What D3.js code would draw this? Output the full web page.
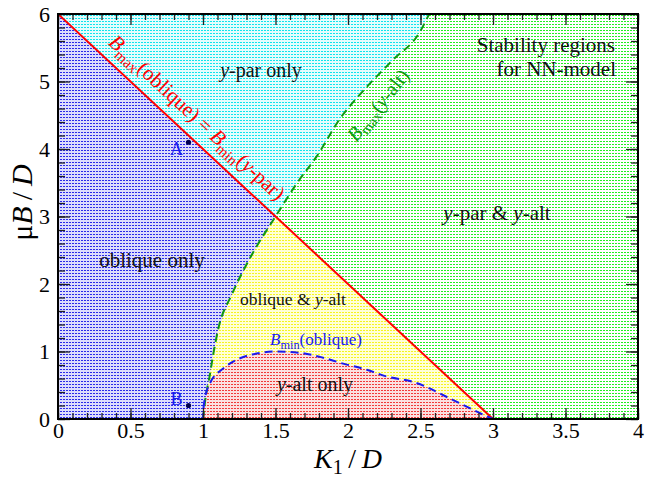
<!DOCTYPE html>
<html lang="en">
<head>
<meta charset="UTF-8">
<title>Stability regions for NN-model</title>
<script src="https://d3js.org/d3.v7.min.js"></script>
<style>
  body { margin: 0; background: #fff; }
  svg text { font-family: "Liberation Serif", "Times New Roman", serif; }
</style>
</head>
<body>
<div id="chart"></div>
<script>
// axis ticks
const xTicks = [0, 0.5, 1, 1.5, 2, 2.5, 3, 3.5, 4];
const yTicks = [0, 1, 2, 3, 4, 5, 6];

// Bmax(oblique) = Bmin(y-par): straight line
const redX = [0, 3];
const redY = [6, 0];

// Bmax(y-alt), green dashed curve
const greenX = [1, 1.02, 1.043, 1.07, 1.106, 1.2, 1.336, 1.5, 1.65, 1.784, 1.945, 2.1, 2.3, 2.497, 2.56];
const greenY = [0, 0.35, 0.6, 0.95, 1.34, 1.85, 2.43, 3.0, 3.5, 3.89, 4.45, 4.85, 5.3, 5.74, 6.0];

// Bmin(oblique), blue dashed curve
const blueX = [0, 1, 1.005, 1.048, 1.14, 1.255, 1.37, 1.508, 1.669, 1.807, 1.967, 2.13, 2.266, 2.45, 2.726, 2.968, 3];
const blueY = [0, 0, 0.2, 0.53, 0.75, 0.90, 0.97, 1.0, 0.98, 0.92, 0.82, 0.73, 0.63, 0.55, 0.28, 0.03, 0];

// marked points
const pointNames = ["A", "B"];
const pointX = [0.9, 0.9];
const pointY = [4.1, 0.2];

const width = 650, height = 479;
const margin = {top: 14, right: 12, bottom: 60, left: 58};

const svg = d3.select("#chart").append("svg")
    .attr("width", width).attr("height", height);

const x = d3.scaleLinear().domain([0, 4]).range([margin.left, width - margin.right]);
const y = d3.scaleLinear().domain([0, 6]).range([height - margin.bottom, margin.top]);

const defs = svg.append("defs");

// dotted fills: tinted background with small saturated dots
function addPattern(id, bg, dot) {
    const p = defs.append("pattern").attr("id", id)
        .attr("patternUnits", "userSpaceOnUse").attr("width", 3).attr("height", 3);
    p.append("rect").attr("width", 3).attr("height", 3).attr("fill", bg);
    p.append("rect").attr("width", 2).attr("height", 1).attr("fill", dot);
}
addPattern("pGreen", "#ffffff", "#22ee22");
addPattern("pCyan", "#e4fdfd", "#10e4ec");
addPattern("pBlue", "#dcdcfc", "#2a2ae8");
addPattern("pYellow", "#ffffd8", "#f4f420");
addPattern("pRed", "#fbe0e0", "#f03a3a");

defs.append("clipPath").attr("id", "plotClip")
    .append("rect").attr("x", x(0)).attr("y", y(6))
    .attr("width", x(4) - x(0)).attr("height", y(0) - y(6));

const greenPts = greenX.map((d, i) => [d, greenY[i]]);
const bluePts = blueX.map((d, i) => [d, blueY[i]]);

const curve = d3.line().x(d => x(d[0])).y(d => y(d[1])).curve(d3.curveMonotoneX);

// region left of the green curve
const leftOfGreen = [[0, 0]].concat(greenPts, [[0, 6]]);
const polyPath = pts => "M" + pts.map(d => x(d[0]) + "," + y(d[1])).join("L") + "Z";

defs.append("clipPath").attr("id", "leftGreenClip")
    .append("path").attr("d", polyPath(leftOfGreen));

const plot = svg.append("g").attr("clip-path", "url(#plotClip)");

// y-par & y-alt everywhere first
plot.append("rect").attr("x", x(0)).attr("y", y(6))
    .attr("width", x(4) - x(0)).attr("height", y(0) - y(6))
    .attr("fill", "url(#pGreen)");

// y-par only
plot.append("path").attr("d", polyPath(leftOfGreen)).attr("fill", "url(#pCyan)");

// below red line: oblique & y-alt
const underRed = [[0, 0], [redX[0], redY[0]], [redX[1], redY[1]]];
plot.append("path").attr("d", polyPath(underRed)).attr("fill", "url(#pYellow)");

// y-alt only (under blue curve)
const area = d3.area().x(d => x(d[0])).y0(y(0)).y1(d => y(d[1])).curve(d3.curveMonotoneX);
plot.append("path").attr("d", area(bluePts)).attr("fill", "url(#pRed)");

// oblique only
plot.append("path").attr("d", polyPath(underRed))
    .attr("clip-path", "url(#leftGreenClip)").attr("fill", "url(#pBlue)");

// boundary lines
plot.append("line")
    .attr("x1", x(redX[0])).attr("y1", y(redY[0]))
    .attr("x2", x(redX[1])).attr("y2", y(redY[1]))
    .attr("stroke", "#ff0000").attr("stroke-width", 2);

plot.append("path").attr("d", curve(greenPts))
    .attr("fill", "none").attr("stroke", "#119911").attr("stroke-width", 2)
    .attr("stroke-dasharray", "8,5");

plot.append("path").attr("d", curve(bluePts))
    .attr("fill", "none").attr("stroke", "#1a1aee").attr("stroke-width", 2)
    .attr("stroke-dasharray", "8,5");

// points A, B
plot.selectAll(".pt").data(pointNames).enter().append("circle")
    .attr("cx", (d, i) => x(pointX[i])).attr("cy", (d, i) => y(pointY[i]))
    .attr("r", 2.6).attr("fill", "#000050");
svg.selectAll(".ptlabel").data(pointNames).enter().append("text")
    .attr("x", (d, i) => x(pointX[i]) - 12).attr("y", (d, i) => y(pointY[i]) + (i ? -1 : 13))
    .attr("text-anchor", "middle").attr("font-size", 18).attr("fill", "#1a1aee")
    .text(d => d);

// axes
function styleAxis(g) {
    g.select(".domain").remove();
    g.selectAll(".tick line").attr("stroke", "#222").attr("stroke-width", 1.3);
    g.selectAll(".tick text").attr("font-size", 22).attr("fill", "#000")
        .style("font-family", "'Liberation Serif', serif");
}
const xMinor = d3.range(0, 4.001, 0.1);
const yMinor = d3.range(0, 6.001, 0.2);

svg.append("g").attr("transform", `translate(0,${y(0)})`)
    .call(d3.axisBottom(x).tickValues(xMinor).tickSize(-6).tickFormat("")).call(styleAxis);
svg.append("g").attr("transform", `translate(0,${y(0)})`)
    .call(d3.axisBottom(x).tickValues(xTicks).tickSize(-11).tickPadding(3).tickFormat(d3.format("~g"))).call(styleAxis);
svg.append("g").attr("transform", `translate(0,${y(6)})`)
    .call(d3.axisTop(x).tickValues(xMinor).tickSize(-6).tickFormat("")).call(styleAxis);
svg.append("g").attr("transform", `translate(0,${y(6)})`)
    .call(d3.axisTop(x).tickValues(xTicks).tickSize(-11).tickFormat("")).call(styleAxis);

svg.append("g").attr("transform", `translate(${x(0)},0)`)
    .call(d3.axisLeft(y).tickValues(yMinor).tickSize(-7).tickFormat("")).call(styleAxis);
svg.append("g").attr("transform", `translate(${x(0)},0)`)
    .call(d3.axisLeft(y).tickValues(yTicks).tickSize(-12).tickPadding(8).tickFormat(d3.format("d"))).call(styleAxis);
svg.append("g").attr("transform", `translate(${x(4)},0)`)
    .call(d3.axisRight(y).tickValues(yMinor).tickSize(-7).tickFormat("")).call(styleAxis);
svg.append("g").attr("transform", `translate(${x(4)},0)`)
    .call(d3.axisRight(y).tickValues(yTicks).tickSize(-12).tickFormat("")).call(styleAxis);

// frame
svg.append("rect").attr("x", x(0)).attr("y", y(6))
    .attr("width", x(4) - x(0)).attr("height", y(0) - y(6))
    .attr("fill", "none").attr("stroke", "#000").attr("stroke-width", 2);

// helper for text with italic / subscript parts: [text, style]
function richText(g, parts, size) {
    const t = g.append("text").attr("font-size", size);
    parts.forEach(([s, st]) => {
        const ts = t.append("tspan").text(s);
        if (st === "i") ts.attr("font-style", "italic");
        if (st === "sub") ts.attr("font-size", size * 0.72).attr("baseline-shift", "-30%");
    });
    return t;
}

// region labels
const lab = svg.append("g").attr("fill", "#111");
richText(lab, [["y", "i"], ["-par only", ""]], 20)
    .attr("x", 261).attr("y", 77).attr("text-anchor", "middle");
richText(lab, [["oblique only", ""]], 21)
    .attr("x", 152).attr("y", 267).attr("text-anchor", "middle");
richText(lab, [["y", "i"], ["-par & ", ""], ["y", "i"], ["-alt", ""]], 21)
    .attr("x", 497).attr("y", 220).attr("text-anchor", "middle");
richText(lab, [["oblique & ", ""], ["y", "i"], ["-alt", ""]], 17.5)
    .attr("x", 293).attr("y", 305).attr("text-anchor", "middle");
richText(lab, [["y", "i"], ["-alt only", ""]], 20)
    .attr("x", 315).attr("y", 391).attr("text-anchor", "middle");
richText(lab, [["Stability regions", ""]], 21)
    .attr("x", 615).attr("y", 52).attr("text-anchor", "end");
richText(lab, [["for NN-model", ""]], 21)
    .attr("x", 616).attr("y", 76).attr("text-anchor", "end");

richText(svg, [["B", "i"], ["min", "sub"], ["(oblique)", ""]], 17)
    .attr("x", 316).attr("y", 345).attr("text-anchor", "middle").attr("fill", "#1a1aee");

// label along the red line
const redAngle = Math.atan2(y(redY[1]) - y(redY[0]), x(redX[1]) - x(redX[0])) * 180 / Math.PI;
richText(svg, [["B", "i"], ["max", "sub"], ["(oblique) = ", ""], ["B", "i"], ["min", "sub"], ["(", ""], ["y", "i"], ["-par)", ""]], 21)
    .attr("fill", "#ff0000").attr("text-anchor", "middle")
    .attr("transform", `translate(${x(0.87)},${y(4.26)}) rotate(${redAngle}) translate(0,-12)`);

// label along the green curve
richText(svg, [["B", "i"], ["max", "sub"], ["(", ""], ["y", "i"], ["-alt)", ""]], 20)
    .attr("fill", "#119911").attr("text-anchor", "middle")
    .attr("transform", `translate(${x(2.19)},${y(4.68)}) rotate(-51) translate(0,10)`);

// axis titles
richText(svg, [["K", "i"], ["1", "sub"], ["\u2009/\u2009", ""], ["D", "i"]], 28)
    .attr("x", 348).attr("y", 468).attr("text-anchor", "middle");
richText(svg, [["\u03bc", ""], ["B", "i"], ["\u2009/\u2009", ""], ["D", "i"]], 30)
    .attr("text-anchor", "middle")
    .attr("transform", `translate(32,${(y(0) + y(6)) / 2 - 14}) rotate(-90)`);
</script>
</body>
</html>
